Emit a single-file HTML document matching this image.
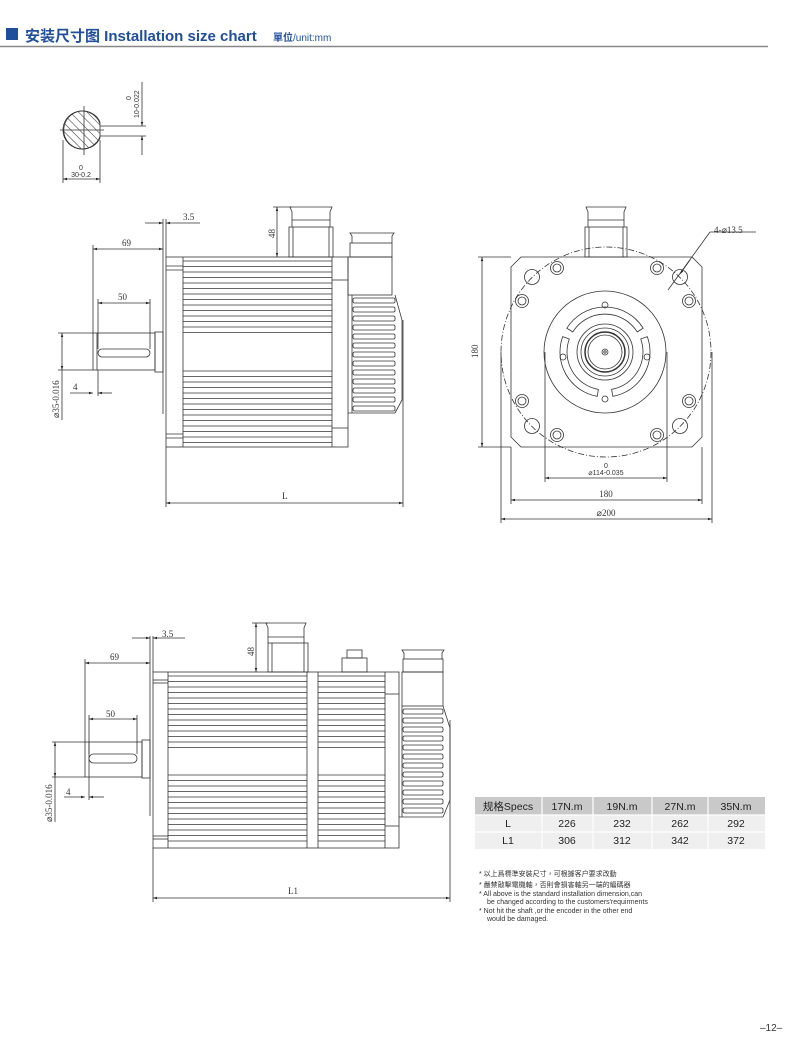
<!DOCTYPE html>
<html><head><meta charset="utf-8"><style>
html,body{margin:0;padding:0;background:#fff;}
body{width:800px;height:1052px;position:relative;overflow:hidden;font-family:"Liberation Sans","Noto Sans CJK SC",sans-serif;}
svg{position:absolute;left:0;top:0;}
.d{font-family:"Liberation Serif",serif;font-size:9px;fill:#333;}
.s{font-family:"Liberation Sans",sans-serif;font-size:7px;fill:#333;}
</style></head><body>
<svg id="g" width="800" height="1052" viewBox="0 0 800 1052">
<defs>
<marker id="a" viewBox="0 0 10 10" refX="10" refY="5" markerWidth="7" markerHeight="5" orient="auto-start-reverse"><path d="M0,2 L10,5 L0,8z" fill="#222"/></marker>
<pattern id="h" width="6" height="6" patternUnits="userSpaceOnUse" patternTransform="rotate(-45)"><line x1="0" y1="0" x2="0" y2="6" stroke="#333" stroke-width="1"/></pattern>
</defs>
<!-- header -->
<rect x="6" y="28" width="12" height="12" fill="#1f4e9c"/>
<text x="25" y="41" font-size="15" font-weight="bold" fill="#1f4e9c" font-family="'Liberation Sans','Noto Sans CJK SC',sans-serif">安装尺寸图 Installation size chart</text>
<text x="273" y="41" font-size="10" fill="#1f4e9c" font-family="'Liberation Sans','Noto Sans CJK SC',sans-serif"><tspan font-weight="bold">單位</tspan>/unit:mm</text>
<line x1="0" y1="46.5" x2="768" y2="46.5" stroke="#888" stroke-width="1.5"/>
<g id="lines" stroke="#333" stroke-width="0.8" fill="none">
<!-- shaft section -->
<clipPath id="cp"><rect x="60" y="100" width="40" height="60"/></clipPath>
<circle cx="82" cy="130" r="19" fill="url(#h)" clip-path="url(#cp)"/>
<path d="M100,122 A19,19 0 1 0 100,138 Z"/>
<line x1="60" y1="130" x2="104" y2="130"/><line x1="84" y1="106" x2="84" y2="155"/>
<line x1="100" y1="126" x2="146" y2="126"/><line x1="100" y1="136" x2="146" y2="136"/>
<line x1="142" y1="82" x2="142" y2="126" marker-end="url(#a)"/><line x1="142" y1="155" x2="142" y2="136" marker-end="url(#a)"/>
<line x1="63" y1="140" x2="63" y2="183"/><line x1="100" y1="140" x2="100" y2="183"/>
<line x1="63" y1="179" x2="100" y2="179" marker-start="url(#a)" marker-end="url(#a)"/>

<!-- TOP MOTOR -->
<line x1="163" y1="219" x2="163" y2="414"/><line x1="166" y1="219" x2="166" y2="257"/>
<rect x="166" y="257" width="182" height="190"/>
<line x1="183" y1="257" x2="183" y2="447"/><line x1="332" y1="257" x2="332" y2="447"/>
<line x1="166" y1="266" x2="183" y2="266"/><line x1="166" y1="270" x2="183" y2="270"/>
<line x1="166" y1="434" x2="183" y2="434"/><line x1="166" y1="438" x2="183" y2="438"/>
<line x1="332" y1="280" x2="348" y2="280"/><line x1="332" y1="428" x2="348" y2="428"/>
<rect x="155" y="332" width="8" height="40"/>
<rect x="93" y="333" width="62" height="37"/>
<line x1="97" y1="333" x2="97" y2="370"/>
<rect x="98" y="349" width="52" height="8" rx="4"/>
<!-- connector 1 -->
<rect x="289" y="227" width="44" height="30"/><line x1="293" y1="227" x2="293" y2="257"/><line x1="329" y1="227" x2="329" y2="257"/>
<path d="M292,227 L292,212 L290,207 L332,207 L330,212 L330,227"/><line x1="292" y1="220" x2="330" y2="220"/>
<!-- encoder -->
<rect x="348" y="257" width="44" height="38"/>
<rect x="350" y="243" width="42" height="14"/>
<path d="M352,243 L352,236 L350,233 L394,233 L392,236 L392,243"/>
<path d="M395,295 L402,320 L402,400 L395,413"/>
<line x1="352" y1="295" x2="352" y2="413"/><line x1="348" y1="413" x2="395" y2="413"/>
<g id="fin1"></g>
<!-- dims top -->
<line x1="163" y1="223" x2="145" y2="223" marker-start="url(#a)"/><line x1="166" y1="223" x2="200" y2="223" marker-start="url(#a)"/>
<line x1="93" y1="245" x2="93" y2="333"/><line x1="93" y1="249" x2="163" y2="249" marker-start="url(#a)" marker-end="url(#a)"/>
<line x1="98" y1="299" x2="98" y2="349"/><line x1="150" y1="299" x2="150" y2="349"/>
<line x1="98" y1="303" x2="150" y2="303" marker-start="url(#a)" marker-end="url(#a)"/>
<line x1="58" y1="333" x2="93" y2="333"/><line x1="58" y1="370" x2="93" y2="370"/>
<line x1="62" y1="333" x2="62" y2="370" marker-start="url(#a)" marker-end="url(#a)"/>
<line x1="62" y1="370" x2="62" y2="420"/>
<line x1="70" y1="393" x2="93" y2="393" marker-end="url(#a)"/><line x1="112" y1="393" x2="98" y2="393" marker-end="url(#a)"/>
<line x1="98" y1="370" x2="98" y2="396"/>
<line x1="277" y1="207" x2="277" y2="257" marker-start="url(#a)" marker-end="url(#a)"/><line x1="273" y1="207" x2="292" y2="207"/>
<line x1="166" y1="447" x2="166" y2="507"/><line x1="403" y1="320" x2="403" y2="507"/>
<line x1="166" y1="503" x2="403" y2="503" marker-start="url(#a)" marker-end="url(#a)"/>

<!-- FRONT VIEW -->
<path d="M521,257 L692,257 L702,267 L702,437 L692,447 L521,447 L511,437 L511,267 Z"/>
<circle cx="606" cy="352" r="105" stroke-dasharray="6,2,1,2"/>
<circle cx="605" cy="352" r="61"/>
<line x1="545" y1="352" x2="545" y2="482"/><line x1="667" y1="352" x2="667" y2="482"/>
<circle cx="605" cy="352" r="28"/><circle cx="605" cy="352" r="24"/><circle cx="605" cy="352" r="20" stroke-width="1.5"/><circle cx="605" cy="352" r="17"/>
<circle cx="605" cy="352" r="3"/><circle cx="605" cy="352" r="1.2"/>
<g id="slots"></g>
<g id="holes"></g>
<rect x="585" y="227" width="42" height="30"/><line x1="589" y1="227" x2="589" y2="257"/><line x1="623" y1="227" x2="623" y2="257"/>
<path d="M588,227 L588,212 L586,207 L626,207 L624,212 L624,227"/><line x1="588" y1="220" x2="624" y2="220"/>
<line x1="478" y1="257" x2="511" y2="257"/><line x1="478" y1="447" x2="511" y2="447"/>
<line x1="482" y1="257" x2="482" y2="447" marker-start="url(#a)" marker-end="url(#a)"/>
<line x1="545" y1="478" x2="667" y2="478" marker-start="url(#a)" marker-end="url(#a)"/>
<line x1="511" y1="447" x2="511" y2="504"/><line x1="702" y1="447" x2="702" y2="504"/>
<line x1="511" y1="500" x2="702" y2="500" marker-start="url(#a)" marker-end="url(#a)"/>
<line x1="501" y1="352" x2="501" y2="523"/><line x1="712" y1="352" x2="712" y2="523"/>
<line x1="501" y1="519" x2="712" y2="519" marker-start="url(#a)" marker-end="url(#a)"/>
<line x1="668" y1="290" x2="710" y2="232"/><line x1="690" y1="260" x2="680" y2="274" marker-end="url(#a)"/><line x1="710" y1="232" x2="756" y2="232"/>

<!-- BOTTOM MOTOR -->
<line x1="150" y1="636" x2="150" y2="816"/><line x1="153" y1="636" x2="153" y2="672"/>
<rect x="153" y="672" width="246" height="176"/>
<line x1="168" y1="672" x2="168" y2="848"/><line x1="307" y1="672" x2="307" y2="848"/><line x1="318" y1="672" x2="318" y2="848"/><line x1="385" y1="672" x2="385" y2="848"/>
<line x1="153" y1="680" x2="168" y2="680"/><line x1="153" y1="683" x2="168" y2="683"/><line x1="153" y1="836" x2="168" y2="836"/><line x1="153" y1="839" x2="168" y2="839"/>
<line x1="385" y1="694" x2="399" y2="694"/><line x1="385" y1="826" x2="399" y2="826"/>
<rect x="142" y="740" width="8" height="38"/>
<rect x="85" y="742" width="57" height="35"/><line x1="89" y1="742" x2="89" y2="777"/>
<rect x="89" y="754" width="48" height="9" rx="4.5"/>
<rect x="268" y="643" width="40" height="29"/><line x1="272" y1="643" x2="272" y2="672"/><line x1="304" y1="643" x2="304" y2="672"/>
<path d="M268,643 L268,628 L266,623 L306,623 L304,628 L304,643"/><line x1="268" y1="637" x2="304" y2="637"/>
<rect x="342" y="658" width="25" height="14"/><rect x="347" y="650" width="15" height="8"/>
<rect x="402" y="672" width="41" height="34"/>
<rect x="403" y="659" width="40" height="13"/>
<path d="M404,659 L404,653 L402,650 L444,650 L442,653 L442,659"/>
<path d="M443,706 L450,728 L450,800 L443,817"/>
<line x1="402" y1="706" x2="402" y2="817"/><line x1="399" y1="817" x2="443" y2="817"/>
<g id="fin2"></g>
<line x1="150" y1="638" x2="132" y2="638" marker-start="url(#a)"/><line x1="153" y1="638" x2="185" y2="638" marker-start="url(#a)"/>
<line x1="85" y1="659" x2="85" y2="742"/><line x1="85" y1="663" x2="150" y2="663" marker-start="url(#a)" marker-end="url(#a)"/>
<line x1="89" y1="715" x2="89" y2="754"/><line x1="137" y1="715" x2="137" y2="754"/>
<line x1="89" y1="719" x2="137" y2="719" marker-start="url(#a)" marker-end="url(#a)"/>
<line x1="52" y1="742" x2="85" y2="742"/><line x1="52" y1="777" x2="85" y2="777"/>
<line x1="55" y1="742" x2="55" y2="777" marker-start="url(#a)" marker-end="url(#a)"/><line x1="55" y1="777" x2="55" y2="822"/>
<line x1="64" y1="797" x2="85" y2="797" marker-end="url(#a)"/><line x1="104" y1="797" x2="89" y2="797" marker-end="url(#a)"/>
<line x1="89" y1="777" x2="89" y2="800"/>
<line x1="256" y1="623" x2="256" y2="672" marker-start="url(#a)" marker-end="url(#a)"/><line x1="252" y1="623" x2="268" y2="623"/>
<line x1="153" y1="848" x2="153" y2="902"/><line x1="450" y1="720" x2="450" y2="902"/>
<line x1="153" y1="898" x2="450" y2="898" marker-start="url(#a)" marker-end="url(#a)"/>
</g>
<!-- dim text -->
<text class="s" x="0" y="0" transform="translate(139,118) rotate(-90)">10-0.022</text>
<text class="s" x="0" y="0" transform="translate(131,100) rotate(-90)">0</text>
<text class="s" x="81" y="170" text-anchor="middle">0</text>
<text class="s" x="81" y="177" text-anchor="middle">30-0.2</text>
<text class="d" x="183" y="220">3.5</text>
<text class="d" x="122" y="246">69</text>
<text class="d" x="118" y="300">50</text>
<text class="d" x="73" y="390">4</text>
<text class="d" x="0" y="0" transform="translate(59,418) rotate(-90)">⌀35-0.016</text>
<text class="d" x="0" y="0" transform="translate(275,238) rotate(-90)">48</text>
<text class="d" x="282" y="499">L</text>
<text class="d" x="0" y="0" transform="translate(478,358) rotate(-90)">180</text>
<text class="s" x="606" y="468" text-anchor="middle">0</text>
<text class="s" x="606" y="475" text-anchor="middle">⌀114-0.035</text>
<text class="d" x="606" y="497" text-anchor="middle">180</text>
<text class="d" x="606" y="516" text-anchor="middle">⌀200</text>
<text class="d" x="714" y="233" font-size="10">4-⌀13.5</text>
<text class="d" x="162" y="637">3.5</text>
<text class="d" x="110" y="660">69</text>
<text class="d" x="106" y="717">50</text>
<text class="d" x="66" y="795">4</text>
<text class="d" x="0" y="0" transform="translate(52,822) rotate(-90)">⌀35-0.016</text>
<text class="d" x="0" y="0" transform="translate(254,656) rotate(-90)">48</text>
<text class="d" x="288" y="894">L1</text>
<!-- table -->
<rect x="475" y="797" width="290" height="18" fill="#c9c9c9"/>
<rect x="475" y="815" width="290" height="34" fill="#efefef"/>
<g stroke="#fff" stroke-width="1.2"><line x1="475" y1="815" x2="765" y2="815"/><line x1="475" y1="832" x2="765" y2="832"/>
<line x1="542" y1="797" x2="542" y2="849"/><line x1="593" y1="797" x2="593" y2="849"/><line x1="652" y1="797" x2="652" y2="849"/><line x1="708" y1="797" x2="708" y2="849"/></g>
<g font-size="10.5" fill="#222" text-anchor="middle" font-family="'Liberation Sans','Noto Sans CJK SC',sans-serif">
<text x="508" y="810">规格Specs</text><text x="567" y="810">17N.m</text><text x="622" y="810">19N.m</text><text x="680" y="810">27N.m</text><text x="736" y="810">35N.m</text>
<text x="508" y="827">L</text><text x="567" y="827">226</text><text x="622" y="827">232</text><text x="680" y="827">262</text><text x="736" y="827">292</text>
<text x="508" y="844">L1</text><text x="567" y="844">306</text><text x="622" y="844">312</text><text x="680" y="844">342</text><text x="736" y="844">372</text>
</g>
<g font-size="7" fill="#333" font-family="'Liberation Sans','Noto Sans CJK TC',sans-serif">
<text x="479" y="876">* 以上爲標準安裝尺寸，可根據客户要求改動</text>
<text x="479" y="887">* 嚴禁敲擊電機軸，否則會損害軸另一端的編碼器</text>
<text x="479" y="896">* All above is the standard installation dimension,can</text>
<text x="487" y="904">be changed according to the customers'requirments</text>
<text x="479" y="913">* Not hit the shaft ,or the encoder in the other end</text>
<text x="487" y="921">would be damaged.</text>
</g>
<text x="760" y="1031" font-size="10" fill="#333">–12–</text>
</svg>
<script>
var NS="http://www.w3.org/2000/svg";
function el(p,t,a){var e=document.createElementNS(NS,t);for(var k in a)e.setAttribute(k,a[k]);document.getElementById(p).appendChild(e);}
// body fins top
for(var y=261;y<444;y+=5.5){if(y>336&&y<366)continue;el('lines','line',{x1:183,y1:y,x2:332,y2:y});}
for(var y=676;y<845;y+=5.5){if(y>748&&y<771)continue;el('lines','line',{x1:168,y1:y,x2:307,y2:y});el('lines','line',{x1:318,y1:y,x2:385,y2:y});}
// encoder fins
for(var y=298;y<410;y+=9){el('fin1','rect',{x:353,y:y,width:42,height:5,rx:1.5});}
for(var y=709;y<814;y+=9){el('fin2','rect',{x:403,y:y,width:40,height:5,rx:1.5});}
// front holes
var sm=[[557,268],[657,268],[522,301],[689,301],[522,401],[689,401],[557,435],[657,435]];
sm.forEach(function(p){el('holes','circle',{cx:p[0],cy:p[1],r:6.5});el('holes','circle',{cx:p[0],cy:p[1],r:4});});
[[532,277],[680,277],[532,426],[680,426]].forEach(function(p){el('holes','circle',{cx:p[0],cy:p[1],r:7.5});});
// slots
var cx=605,cy=352;
function pt(r,a){a=a*Math.PI/180;return (cx+r*Math.cos(a)).toFixed(1)+','+(cy+r*Math.sin(a)).toFixed(1);}
function slot(a1,a2){var r1=38,r2=45;var big=(a2-a1)>180?1:0;
el('slots','path',{d:'M'+pt(r2,a1)+' A'+r2+','+r2+' 0 '+big+' 1 '+pt(r2,a2)+' L'+pt(r1,a2)+' A'+r1+','+r1+' 0 '+big+' 0 '+pt(r1,a1)+' Z'});}
slot(212,328);slot(-20,80);slot(100,200);
[[0,-42],[42,0],[-42,0],[0,42]].forEach(function(o){el('slots','circle',{cx:cx+o[0],cy:cy+o[1]+(o[1]<0?-5:5),r:3});});
</script>
</body></html>
